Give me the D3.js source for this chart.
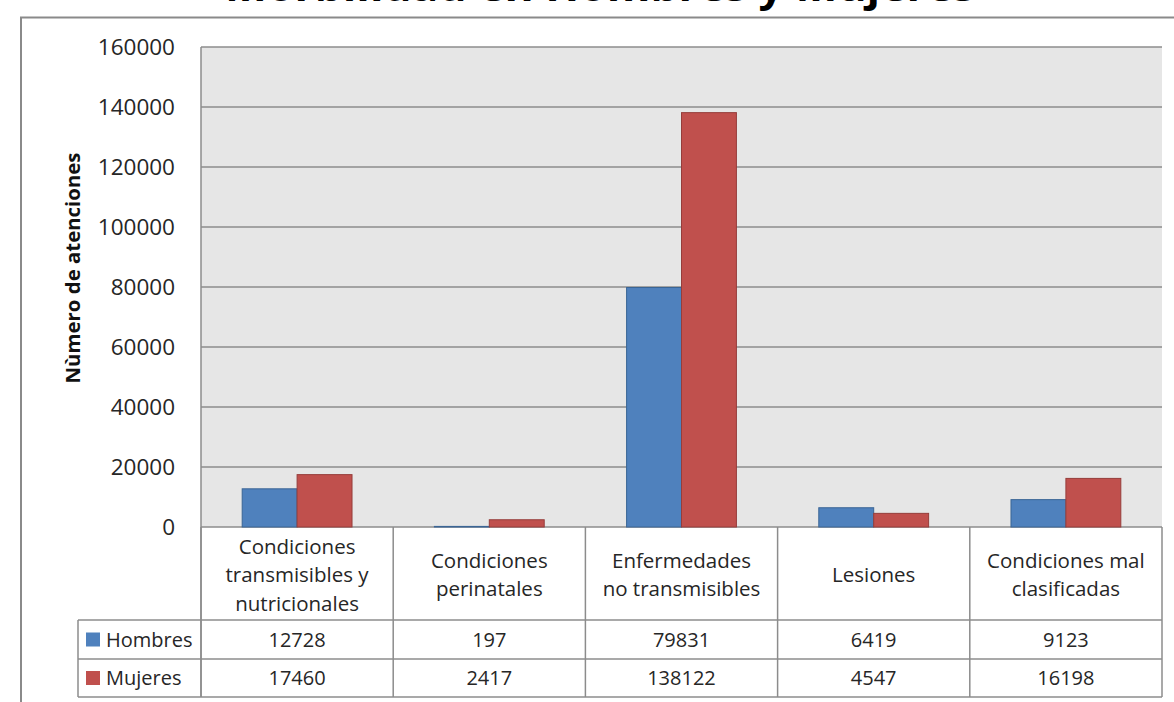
<!DOCTYPE html>
<html>
<head>
<meta charset="utf-8">
<script src="https://cdn.jsdelivr.net/npm/d3@7"></script>
<style>
  body { margin: 0; background: #fff; }
  text { font-family: "Open Sans", sans-serif; }
</style>
</head>
<body>
<svg id="chart" width="1174" height="702"></svg>
<script>
const categories = [
  ["Condiciones", "transmisibles y", "nutricionales"],
  ["Condiciones", "perinatales"],
  ["Enfermedades", "no transmisibles"],
  ["Lesiones"],
  ["Condiciones mal", "clasificadas"],
];
const seriesNames = ["Hombres", "Mujeres"];
const hombres = [12728, 197, 79831, 6419, 9123];
const mujeres = [17460, 2417, 138122, 4547, 16198];
const yTicks = [0, 20000, 40000, 60000, 80000, 100000, 120000, 140000, 160000];

const colors = { Hombres: "#4f81bd", Mujeres: "#c0504d" };
const strokes = { Hombres: "#3a6595", Mujeres: "#963d3b" };
const series = [hombres, mujeres];

const svg = d3.select("#chart");
const plot = { left: 201, right: 1162, top: 47, bottom: 527 };
const rowY = [620, 659, 697];   // bordes de las filas de la tabla
const txt = "#262626";

// marco exterior
svg.append("path")
  .attr("d", "M21,702 V17.5 H1174")
  .attr("fill", "none").attr("stroke", "#8a8a8a").attr("stroke-width", 2);

// titulo (cortado arriba)
svg.append("text")
  .attr("x", 600).attr("y", 0.5)
  .attr("text-anchor", "middle")
  .attr("font-size", 42).attr("font-weight", "bold")
  .attr("textLength", 750).attr("lengthAdjust", "spacingAndGlyphs")
  .text("Morbilidad en Hombres y Mujeres");

const x = d3.scaleBand().domain(d3.range(categories.length))
  .range([plot.left, plot.right]);
const xInner = d3.scaleBand().domain(seriesNames)
  .range([0, x.bandwidth()]).paddingInner(0).paddingOuter(0.75);
const y = d3.scaleLinear().domain([0, 160000]).range([plot.bottom, plot.top]);

svg.append("rect")
  .attr("x", plot.left).attr("y", plot.top)
  .attr("width", plot.right - plot.left).attr("height", plot.bottom - plot.top)
  .attr("fill", "#e6e6e6");

svg.append("g").selectAll("line").data(yTicks).join("line")
  .attr("x1", plot.left).attr("x2", plot.right)
  .attr("y1", d => y(d)).attr("y2", d => y(d))
  .attr("stroke", "#8c8c8c").attr("stroke-width", 1.5);

svg.append("line")
  .attr("x1", plot.left).attr("x2", plot.left)
  .attr("y1", plot.top).attr("y2", rowY[2])
  .attr("stroke", "#8c8c8c").attr("stroke-width", 1.5);

// etiquetas del eje y
svg.append("g").selectAll("text").data(yTicks).join("text")
  .attr("x", 175).attr("y", d => y(d))
  .attr("dy", "0.35em")
  .attr("text-anchor", "end")
  .attr("font-size", 22.5).attr("fill", txt)
  .text(d => d);

svg.append("text")
  .attr("transform", "translate(80,268) rotate(-90)")
  .attr("text-anchor", "middle")
  .attr("font-size", 20.4).attr("font-weight", "bold").attr("fill", "#111")
  .text("Nùmero de atenciones");

// barras
seriesNames.forEach((name, si) => {
  svg.append("g").selectAll("rect").data(series[si]).join("rect")
    .attr("x", (d, i) => x(i) + xInner(name))
    .attr("y", d => y(d))
    .attr("width", xInner.bandwidth())
    .attr("height", d => y(0) - y(d))
    .attr("fill", colors[name])
    .attr("stroke", strokes[name]).attr("stroke-width", 1);
});

// tabla de datos
const grid = svg.append("g").attr("stroke", "#8c8c8c").attr("stroke-width", 1.5);
rowY.forEach(ry => {
  grid.append("line").attr("x1", 78).attr("x2", plot.right)
    .attr("y1", ry).attr("y2", ry);
});
grid.append("line").attr("x1", 78).attr("x2", 78).attr("y1", rowY[0]).attr("y2", rowY[2]);
d3.range(categories.length + 1).forEach(i => {
  const xx = i < categories.length ? x(i) : plot.right;
  grid.append("line").attr("x1", xx).attr("x2", xx)
    .attr("y1", plot.bottom).attr("y2", rowY[2]);
});

const lineH = 28.5;
categories.forEach((lines, i) => {
  const cx = x(i) + x.bandwidth() / 2;
  const y0 = 575 - (lines.length - 1) * lineH / 2;
  svg.append("text")
    .attr("text-anchor", "middle").attr("font-size", 20.5).attr("fill", txt)
    .selectAll("tspan").data(lines).join("tspan")
    .attr("x", cx).attr("y", (d, k) => y0 + k * lineH).attr("dy", "0.35em")
    .text(d => d);
});

seriesNames.forEach((name, si) => {
  const cy = (rowY[si] + rowY[si + 1]) / 2;
  svg.append("rect")
    .attr("x", 86).attr("y", cy - 7).attr("width", 14).attr("height", 14)
    .attr("fill", colors[name]);
  svg.append("text")
    .attr("x", 106).attr("y", cy).attr("dy", "0.35em")
    .attr("font-size", 20).attr("fill", txt)
    .text(name);
  svg.append("g").selectAll("text").data(series[si]).join("text")
    .attr("x", (d, i) => x(i) + x.bandwidth() / 2)
    .attr("y", cy).attr("dy", "0.35em")
    .attr("text-anchor", "middle").attr("font-size", 20).attr("fill", txt)
    .text(d => d);
});
</script>
</body>
</html>
